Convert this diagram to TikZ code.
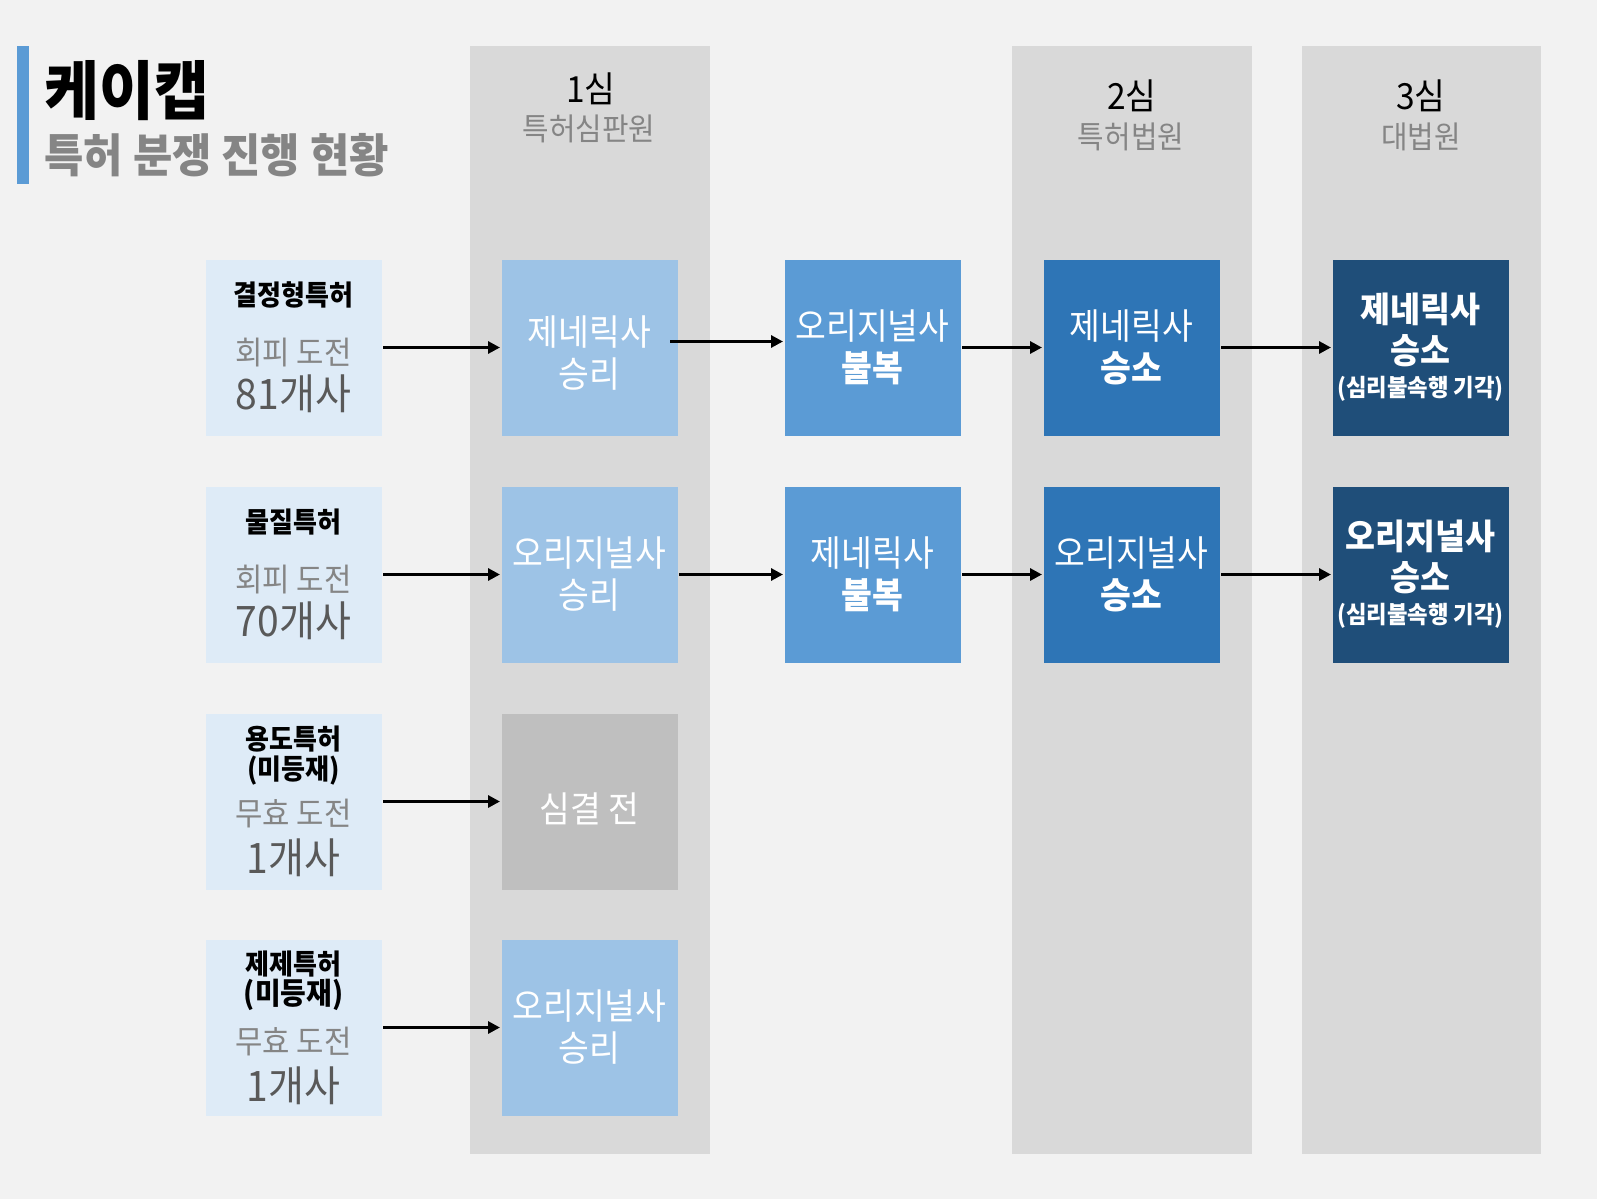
\documentclass[tikz,border=0pt]{standalone}
\usepackage{fontspec}
\setmainfont{Noto Sans CJK KR}[FakeStretch=0.93]
\usetikzlibrary{arrows.meta}
\definecolor{pagebg}{HTML}{F2F2F2}
\definecolor{lanegray}{HTML}{D9D9D9}
\definecolor{srcblue}{HTML}{DEEBF7}
\definecolor{paleblue}{HTML}{9DC3E6}
\definecolor{midblue}{HTML}{5B9BD5}
\definecolor{deepblue}{HTML}{2E75B6}
\definecolor{navyblue}{HTML}{1F4E79}
\definecolor{pendgray}{HTML}{BFBFBF}
\definecolor{subgray}{HTML}{858585}
\definecolor{numgray}{HTML}{595959}
\newcommand{\setfs}[2]{\fontsize{#1}{#2}\selectfont\lineskiplimit=-100pt}
\begin{document}
\begin{tikzpicture}[x=1pt, y=-1pt, line width=3pt, >={Triangle[length=12pt,width=12pt]},
  src node/.style={fill=srcblue,minimum width=176pt,minimum height=176pt,inner sep=0pt,anchor=north west,align=center,font=\setfs{28}{30}},
  case node/.style={minimum width=176pt,minimum height=176pt,inner sep=0pt,anchor=north west,align=center,text=white,font=\setfs{36}{42}},
  head node/.style={anchor=base,font=\setfs{36}{36}},
  court node/.style={anchor=base,text=subgray,font=\setfs{31}{31}}]
% background and lanes
\fill[pagebg] (0,0) rectangle (1597,1199);
\fill[lanegray] (470,46) rectangle (710,1154);
\fill[lanegray] (1012,46) rectangle (1252,1154);
\fill[lanegray] (1302,46) rectangle (1541,1154);
\fill[midblue] (17,46) rectangle (29,184);
% title
\node[anchor=base west,inner sep=0pt,font=\setfs{64}{64}\bfseries] (title) at (43,114) {케이캡};
\node[anchor=base west,inner sep=0pt,text=subgray,font=\setfs{46}{46}\bfseries] (subtitle) at (43,172) {특허 분쟁 진행 현황};
% headers
\node[head node] (h1) at (591,102) {1심};
\node[court node] (k1) at (589,140) {특허심판원};
\node[head node] (h2) at (1132,109) {2심};
\node[court node] (k2) at (1131,148) {특허법원};
\node[head node] (h3) at (1421,109) {3심};
\node[court node] (k3) at (1421,148) {대법원};
% patents
\node[src node] (s1) at (204,258) {{\bfseries 결정형특허}\\[29pt]{\color{subgray}\setfs{32}{32}회피 도전}\\[15pt]{\color{numgray}\setfs{42}{42}81개사}};
\node[src node] (s2) at (204,485) {{\bfseries 물질특허}\\[29pt]{\color{subgray}\setfs{32}{32}회피 도전}\\[15pt]{\color{numgray}\setfs{42}{42}70개사}};
\node[src node] (s3) at (204,712) {{\bfseries 용도특허}\\{\bfseries (미등재)}\\[16pt]{\color{subgray}\setfs{32}{32}무효 도전}\\[18pt]{\color{numgray}\setfs{42}{42}1개사}};
\node[src node] (s4) at (204,938) {{\bfseries 제제특허}\\{\bfseries\setfs{30}{30}(미등재)}\\[19pt]{\color{subgray}\setfs{32}{32}무효 도전}\\[18pt]{\color{numgray}\setfs{42}{42}1개사}};
% 1st instance
\node[case node,fill=paleblue,label={[text=white,align=center,font=\setfs{36}{42},yshift=-6pt]center:제네릭사\\승리}] (a1) at (500,258) {};
\node[case node,fill=paleblue] (a2) at (500,485) {오리지널사\\승리};
\node[case node,fill=pendgray,text height=44pt] (a3) at (500,712) {심결 전};
\node[case node,fill=paleblue] (a4) at (500,938) {오리지널사\\승리};
% appeals
\node[case node,fill=midblue] (b1) at (783,258) {오리지널사\\\textbf{불복}};
\node[case node,fill=midblue] (b2) at (783,485) {제네릭사\\\textbf{불복}};
% 2nd instance
\node[case node,fill=deepblue] (c1) at (1042,258) {제네릭사\\\textbf{승소}};
\node[case node,fill=deepblue] (c2) at (1042,485) {오리지널사\\\textbf{승소}};
% 3rd instance
\node[case node,fill=navyblue,font=\setfs{35}{33}\bfseries] (d1) at (1331,258) {제네릭사\\[8pt]승소\\{\setfs{24}{24}(심리불속행 기각)}};
\node[case node,fill=navyblue,font=\setfs{35}{33}\bfseries] (d2) at (1331,485) {오리지널사\\[8pt]승소\\{\setfs{24}{24}(심리불속행 기각)}};
% flows
\draw[->] (s1) -- (a1);
\draw[->] (s2) -- (a2);
\draw[->] (s3) -- (a3);
\draw[->] (s4) -- (a4);
\draw[->] ([xshift=-9pt,yshift=6pt]a1.east) -- ([yshift=6pt]b1.west);
\draw[->] (a2) -- (b2);
\draw[->] (b1) -- (c1);
\draw[->] (b2) -- (c2);
\draw[->] (c1) -- (d1);
\draw[->] (c2) -- (d2);
\end{tikzpicture}
\end{document}
